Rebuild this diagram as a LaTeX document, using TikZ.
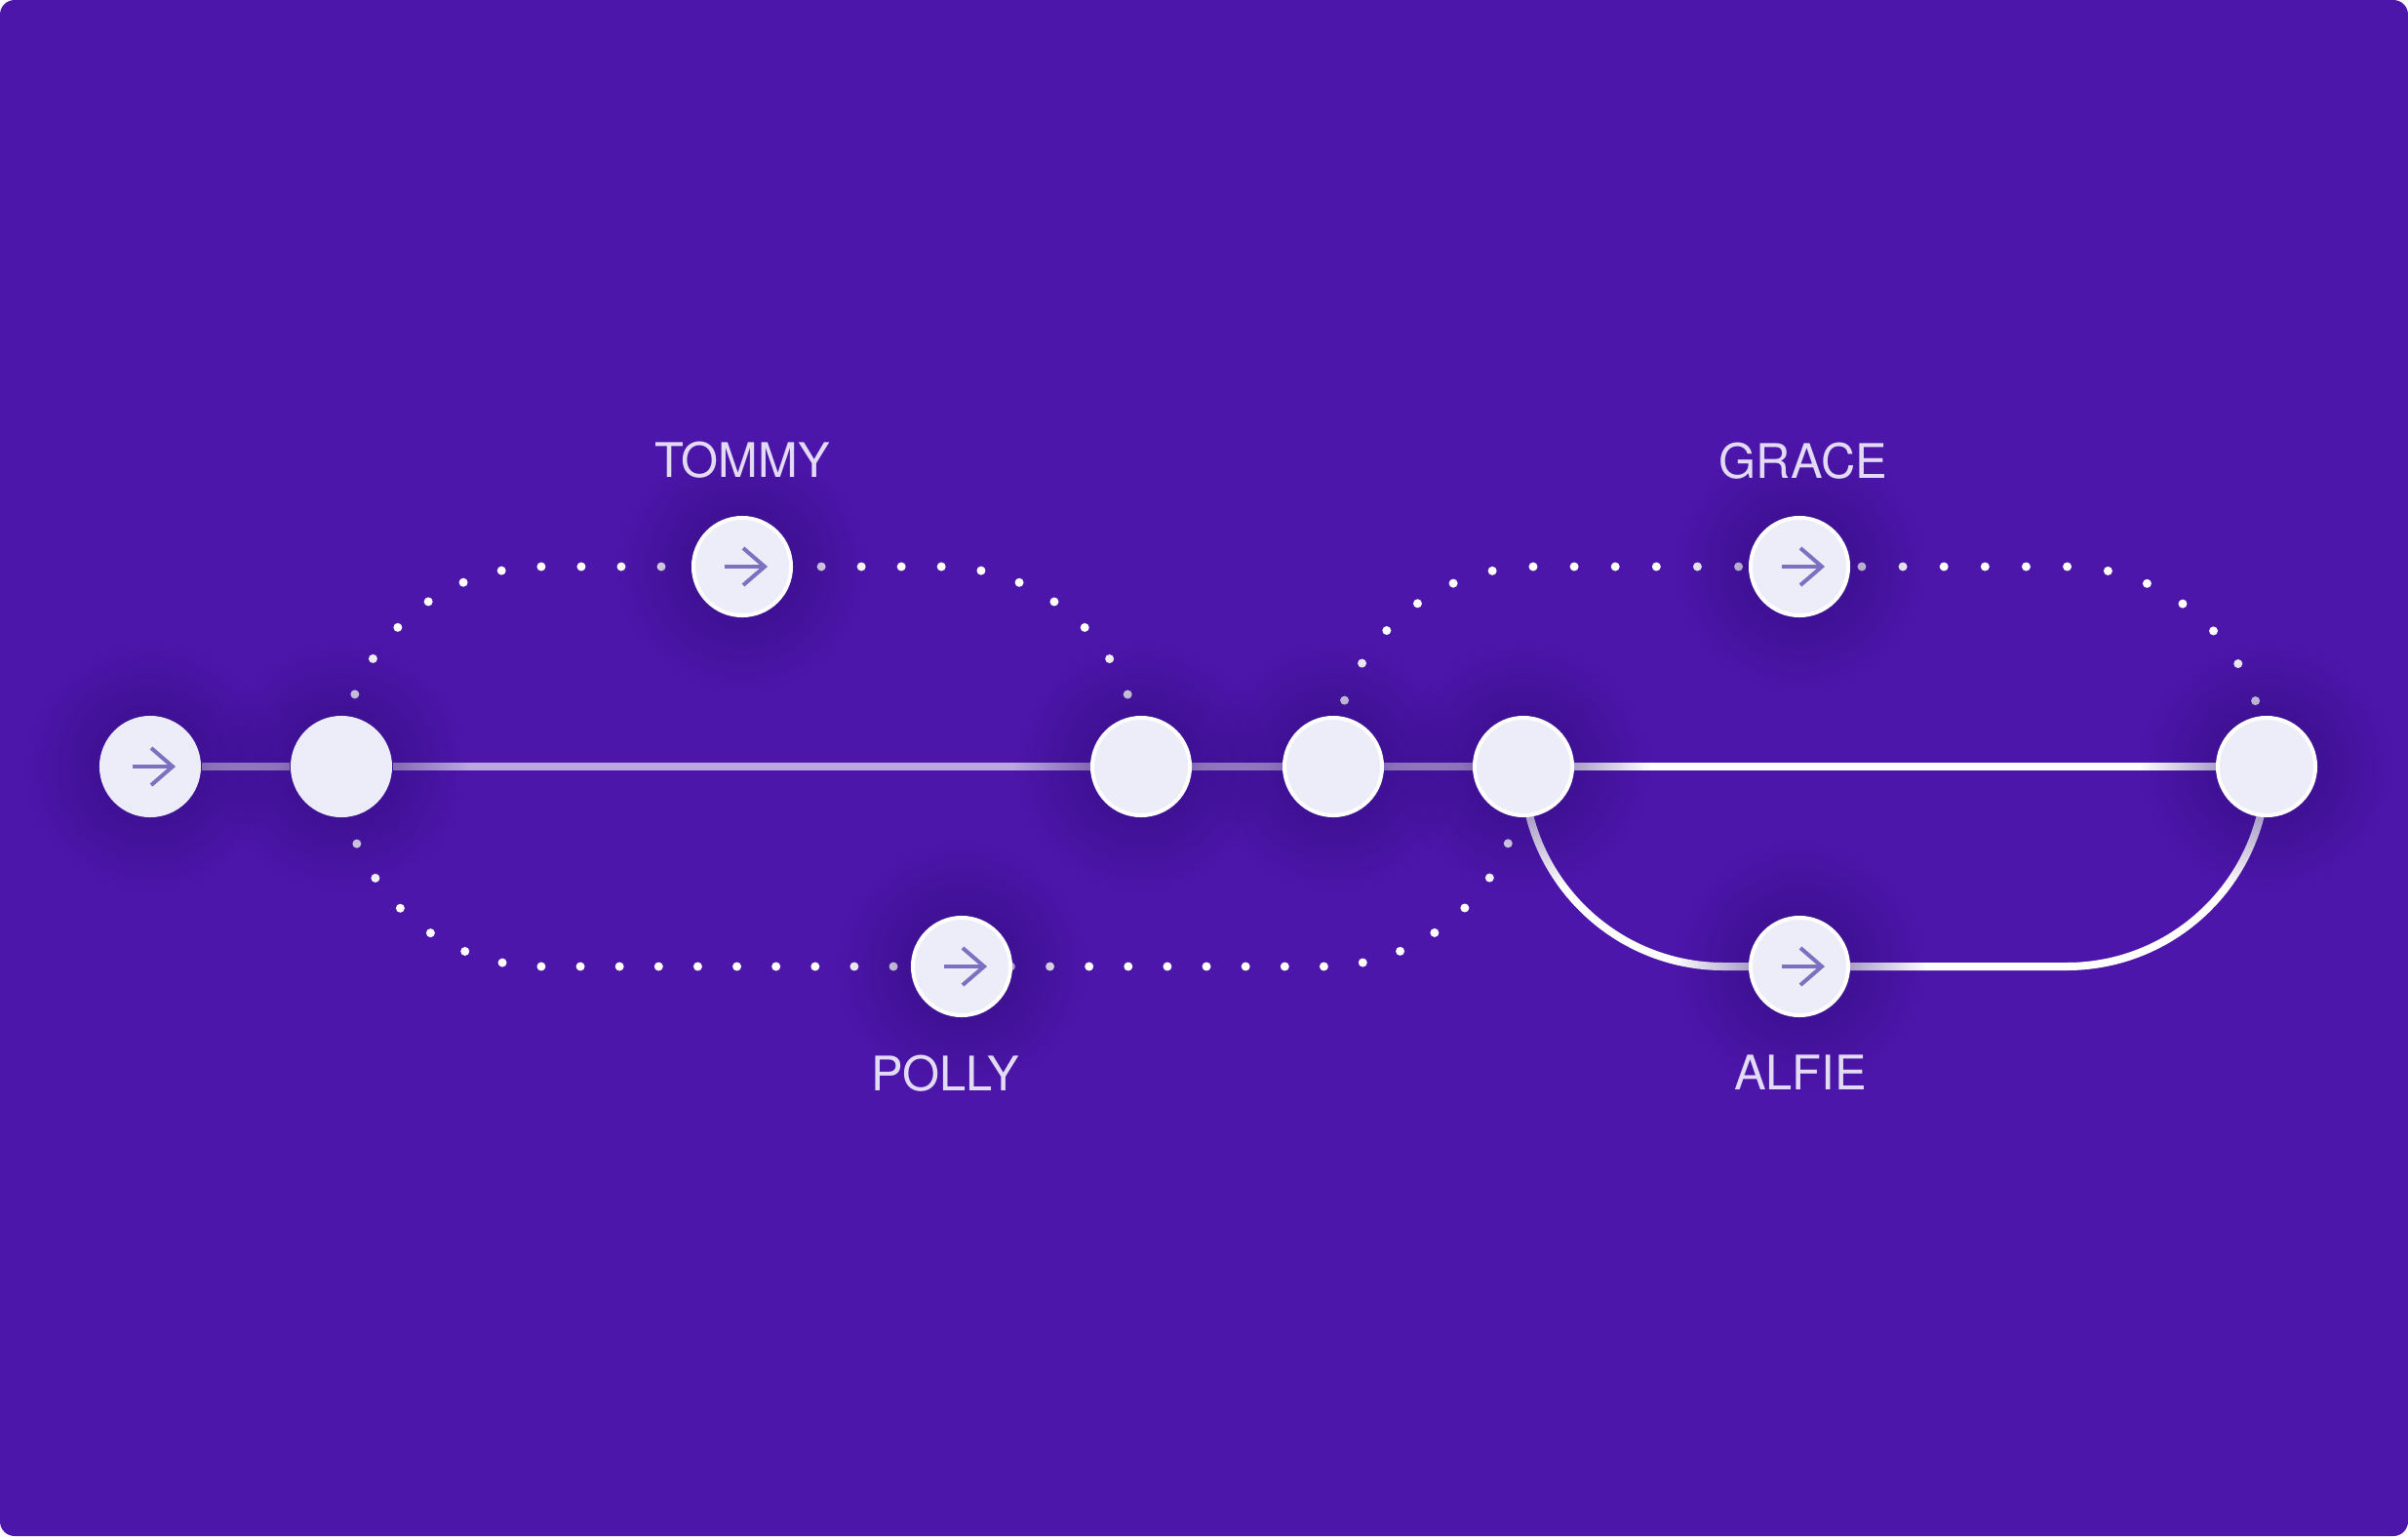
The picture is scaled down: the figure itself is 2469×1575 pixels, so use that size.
\documentclass[tikz,border=0pt]{standalone}
\usepackage{fontspec}
\setmainfont{TeX Gyre Heros}
\usetikzlibrary{fadings}
\definecolor{bgc}{HTML}{4D16AB}
\definecolor{nodefill}{HTML}{EDECF9}
\definecolor{iconc}{HTML}{7C70C0}
\definecolor{txtc}{HTML}{E3DBF6}
\definecolor{haloc}{HTML}{2A0A72}
\pgfdeclarelayer{bglayer}
\pgfdeclarelayer{halolayer}
\pgfsetlayers{bglayer,halolayer,main}
\tikzfading[name=halofade, inner color=transparent!0, outer color=transparent!100]
\begin{document}
\begin{tikzpicture}[x=0.01cm, y=-0.01cm,
  hub/.style={circle, fill=nodefill, minimum size=1.04cm, inner sep=0pt},
  ring/.style={circle, fill=nodefill, draw=white, line width=0.04cm, minimum size=1.0cm, inner sep=0pt},
  lbl/.style={text=txtc, font=\fontsize{13.9pt}{16pt}\selectfont, inner sep=0pt},
  railsoft/.style={draw=white, draw opacity=0.62, line width=0.08cm},
  railbright/.style={draw=white, line width=0.08cm},
  dotline/.style={draw=white, line width=0.09cm, line cap=round, rounded corners=2.05cm},
  icon/.style={draw=iconc, line width=0.04cm},
  arrowicon/.pic={\draw[icon] (-18,0) -- (23,0); \draw[icon] (1,-19) -- (23,0) -- (1,19);}
]
\useasboundingbox (0,0) rectangle (2469,1575);

% nodes
\node[hub]  (A) at (154,786) {};
\node[hub]  (B) at (350,786) {};
\node[ring] (C) at (1170,786) {};
\node[ring] (D) at (1367,786) {};
\node[ring] (E) at (1562,786) {};
\node[ring] (F) at (2324,786) {};
\node[ring] (T) at (761,581) {};
\node[ring] (G) at (1845,581) {};
\node[ring] (P) at (986,991) {};
\node[ring] (L) at (1845,991) {};

\pic at (A.center) {arrowicon};
\pic at (T.center) {arrowicon};
\pic at (G.center) {arrowicon};
\pic at (P.center) {arrowicon};
\pic at (L.center) {arrowicon};

% labels
\node[lbl] (tT) at (761,472) {TOMMY};
\node[lbl] (tG) at (1849,473) {GRACE};
\node[lbl] (tP) at (969,1101) {POLLY};
\node[lbl] (tL) at (1846,1100) {ALFIE};

\begin{pgfonlayer}{bglayer}
  \fill[white] (0,0) rectangle (2469,1575);
  \fill[bgc, rounded corners=0.15cm] (0,0) rectangle (2469,1575);
  % main rail
  \draw[railsoft] (A) -- (B);
  \draw[railsoft] (B) -- (C);
  \draw[railsoft] (C) -- (D);
  \draw[railsoft] (D) -- (E);
  \draw[railbright] (E) -- (F);
  % ALFIE branch (passes through L)
  \draw[railbright, rounded corners=2.05cm] (E.center) |- (F.center |- L.center) -- (F.center);
  % dotted loops (through T, P and G)
  \draw[dotline, dash pattern=on 0pt off 0.41cm, dash phase=0.06cm]
    (B.center) |- (C.center |- T.center) -- (C.center);
  \draw[dotline, dash pattern=on 0pt off 0.401cm, dash phase=0.389cm]
    (B.center) |- (E.center |- P.center) -- (E.center);
  \draw[dotline, dash pattern=on 0pt off 0.421cm, dash phase=0.148cm]
    (D.center) |- (F.center |- G.center) -- (F.center);
\end{pgfonlayer}

\begin{pgfonlayer}{halolayer}
  \foreach \n in {A,B,C,D,E,F,T,G,P,L}
    \fill[haloc, fill opacity=0.65, path fading=halofade] (\n.center) circle[radius=1.3cm];
\end{pgfonlayer}
\end{tikzpicture}
\end{document}
